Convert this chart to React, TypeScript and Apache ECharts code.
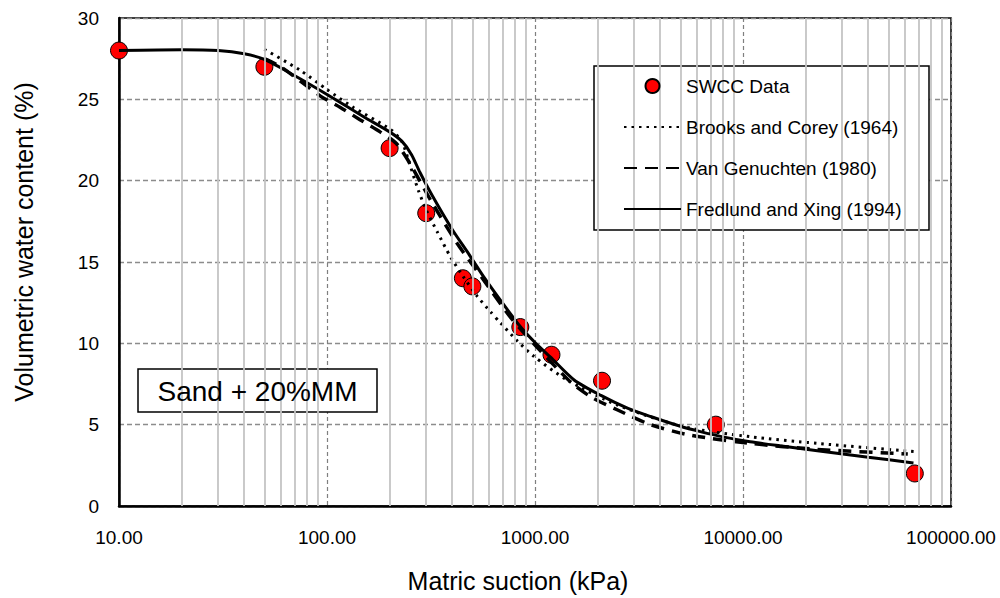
import React, { useEffect, useRef } from 'react';
import * as echarts from 'echarts';

// ---- Data ----
const swccSuction = [10, 50, 200, 300, 450, 500, 850, 1200, 2100, 7400, 67000];
const swccTheta = [28, 27, 22, 18, 14, 13.5, 11, 9.3, 7.7, 5, 2];

const bcSuction = [50, 74, 100, 134, 202, 229, 250, 275, 300, 339, 393, 452, 527, 610, 683, 822, 987, 1430, 2497, 5200, 10820, 22770, 67000];
const bcTheta = [28.07, 26.8, 25.6, 24.5, 23.15, 22.4, 21.0, 19.4, 18.2, 16.85, 15.3, 14.1, 12.9, 11.95, 11.25, 10.15, 9.2, 7.74, 6.2, 4.87, 4.26, 3.85, 3.34];

const vgSuction = [50, 60, 93, 116, 144, 180, 215, 252, 315, 422, 566, 763, 1000, 1489, 1862, 2497, 3595, 5600, 10820, 22770, 62000];
const vgTheta = [27.5, 27.0, 25.2, 24.5, 23.75, 23.0, 22.3, 21.0, 18.8, 16.15, 13.9, 11.6, 9.9, 7.6, 6.7, 5.9, 5.0, 4.35, 3.85, 3.48, 3.2];

const fxSuction = [10, 20, 30, 40, 50, 70, 100, 150, 200, 230, 255, 280, 320, 400, 480, 566, 700, 853, 1000, 1187, 1542, 2074, 2800, 3595, 5000, 6240, 8000, 10820, 15000, 22770, 40000, 66000];
const fxTheta = [28.0, 28.05, 28.0, 27.8, 27.45, 26.45, 25.3, 23.93, 23.0, 22.4, 21.6, 20.5, 19.1, 17.0, 15.5, 14.1, 12.45, 11.0, 10.05, 9.15, 7.75, 6.8, 6.0, 5.5, 4.9, 4.57, 4.25, 3.95, 3.7, 3.4, 3.0, 2.65];

const seriesNames = ['SWCC Data', 'Brooks and Corey (1964)', 'Van Genuchten (1980)', 'Fredlund and Xing (1994)'];
const xTitle = 'Matric suction (kPa)';
const yTitle = 'Volumetric water content (%)';
const boxLabel = 'Sand + 20%MM';

const decades = [10, 100, 1000, 10000];
const minorMultipliers = [2, 3, 4, 5, 6, 7, 8, 9];

const FONT = '"Liberation Sans", Arial, Helvetica, sans-serif';

const zip = (xs: number[], ys: number[]) => xs.map((x, i) => [x, ys[i]]);

export default function App() {
  const ref = useRef<HTMLDivElement>(null);
  useEffect(() => {
    const chart = echarts.init(ref.current!, null, { renderer: 'svg' });
    const minorLines: any[] = [];
    decades.forEach((d) => minorMultipliers.forEach((m) => minorLines.push({ xAxis: d * m })));

    const lineSeries = (name: string, xs: number[], ys: number[], lineStyle: any, z: number) => ({
      name,
      type: 'line',
      z,
      data: zip(xs, ys),
      showSymbol: false,
      symbol: 'none',
      smooth: 0.25,
      itemStyle: { color: '#000' },
      lineStyle: { color: '#000', ...lineStyle },
    });

    const option: any = {
      animation: false,
      backgroundColor: '#ffffff',
      textStyle: { fontFamily: FONT },
      grid: {
        left: 119,
        top: 18,
        right: 49,
        bottom: 92,
        show: true,
        borderColor: '#000',
        borderWidth: 1.5,
        backgroundColor: 'transparent',
      },
      xAxis: {
        type: 'log',
        logBase: 10,
        min: 10,
        max: 100000,
        axisLine: { show: true, onZero: false, lineStyle: { color: '#000', width: 2.5 } },
        axisTick: { show: false },
        axisLabel: {
          margin: 22,
          fontSize: 19,
          color: '#000',
          fontFamily: FONT,
          formatter: (v: number) => Number(v).toFixed(2),
        },
        splitLine: { show: true, lineStyle: { color: '#7f7f7f', width: 1.2, type: [4, 3] } },
      },
      yAxis: {
        type: 'value',
        min: 0,
        max: 30,
        interval: 5,
        axisLine: { show: true, lineStyle: { color: '#000', width: 2.5 } },
        axisTick: { show: false },
        axisLabel: { margin: 20, fontSize: 19, color: '#000', fontFamily: FONT },
        splitLine: { show: true, lineStyle: { color: '#8c8c8c', width: 1.3, type: [5, 3] } },
      },
      legend: {
        orient: 'vertical',
        left: 618,
        top: 71,
        itemWidth: 57,
        itemHeight: 14,
        itemGap: 21,
        z: 10,
        data: [
          { name: seriesNames[0] },
          { name: seriesNames[1], itemStyle: { opacity: 0 } },
          { name: seriesNames[2], itemStyle: { opacity: 0 } },
          { name: seriesNames[3], itemStyle: { opacity: 0 } },
        ],
        textStyle: { fontSize: 19, color: '#000', fontFamily: FONT, lineHeight: 20 },
        selectedMode: false,
      },
      graphic: [
        {
          type: 'rect',
          z: 5,
          shape: { x: 594, y: 66, width: 335, height: 164 },
          style: { fill: '#fff', stroke: '#000', lineWidth: 1.5 },
        },
        {
          type: 'rect',
          z: 5,
          shape: { x: 138, y: 369, width: 239, height: 43 },
          style: { fill: '#fff', stroke: '#000', lineWidth: 1.5 },
        },
        {
          type: 'text',
          z: 6,
          x: 257.5,
          y: 391,
          style: { text: boxLabel, fontSize: 28, fontFamily: FONT, fill: '#000', align: 'center', verticalAlign: 'middle' },
        },
        {
          type: 'text',
          z: 6,
          x: 518,
          y: 581,
          style: { text: xTitle, fontSize: 25, fontFamily: FONT, fill: '#000', align: 'center', verticalAlign: 'middle' },
        },
        {
          type: 'text',
          z: 6,
          x: 24,
          y: 242,
          rotation: Math.PI / 2,
          style: { text: yTitle, fontSize: 25, fontFamily: FONT, fill: '#000', align: 'center', verticalAlign: 'middle' },
        },
      ],
      series: [
        {
          name: 'minor-grid',
          type: 'line',
          data: [],
          z: 1,
          silent: true,
          markLine: {
            silent: true,
            symbol: ['none', 'none'],
            label: { show: false },
            emphasis: { disabled: true },
            lineStyle: { color: '#c4c4c4', width: 1.8, type: 'solid' },
            data: minorLines,
          },
        },
        {
          name: seriesNames[0],
          type: 'scatter',
          z: 2,
          data: zip(swccSuction, swccTheta),
          symbol: 'circle',
          symbolSize: 17,
          itemStyle: { color: '#ff0000', borderColor: '#000', borderWidth: 1, opacity: 1 },
        },
        lineSeries(seriesNames[1], bcSuction, bcTheta, { width: 3, type: [2.5, 5] }, 3),
        lineSeries(seriesNames[2], vgSuction, vgTheta, { width: 3.5, type: [13, 8] }, 3),
        lineSeries(seriesNames[3], fxSuction, fxTheta, { width: 3 }, 4),
      ],
    };
    chart.setOption(option);
    return () => chart.dispose();
  }, []);
  return (
    <div
      ref={ref}
      style={{ position: 'fixed', left: 0, top: 0, width: 1000, height: 598, background: '#fff' }}
    />
  );
}
